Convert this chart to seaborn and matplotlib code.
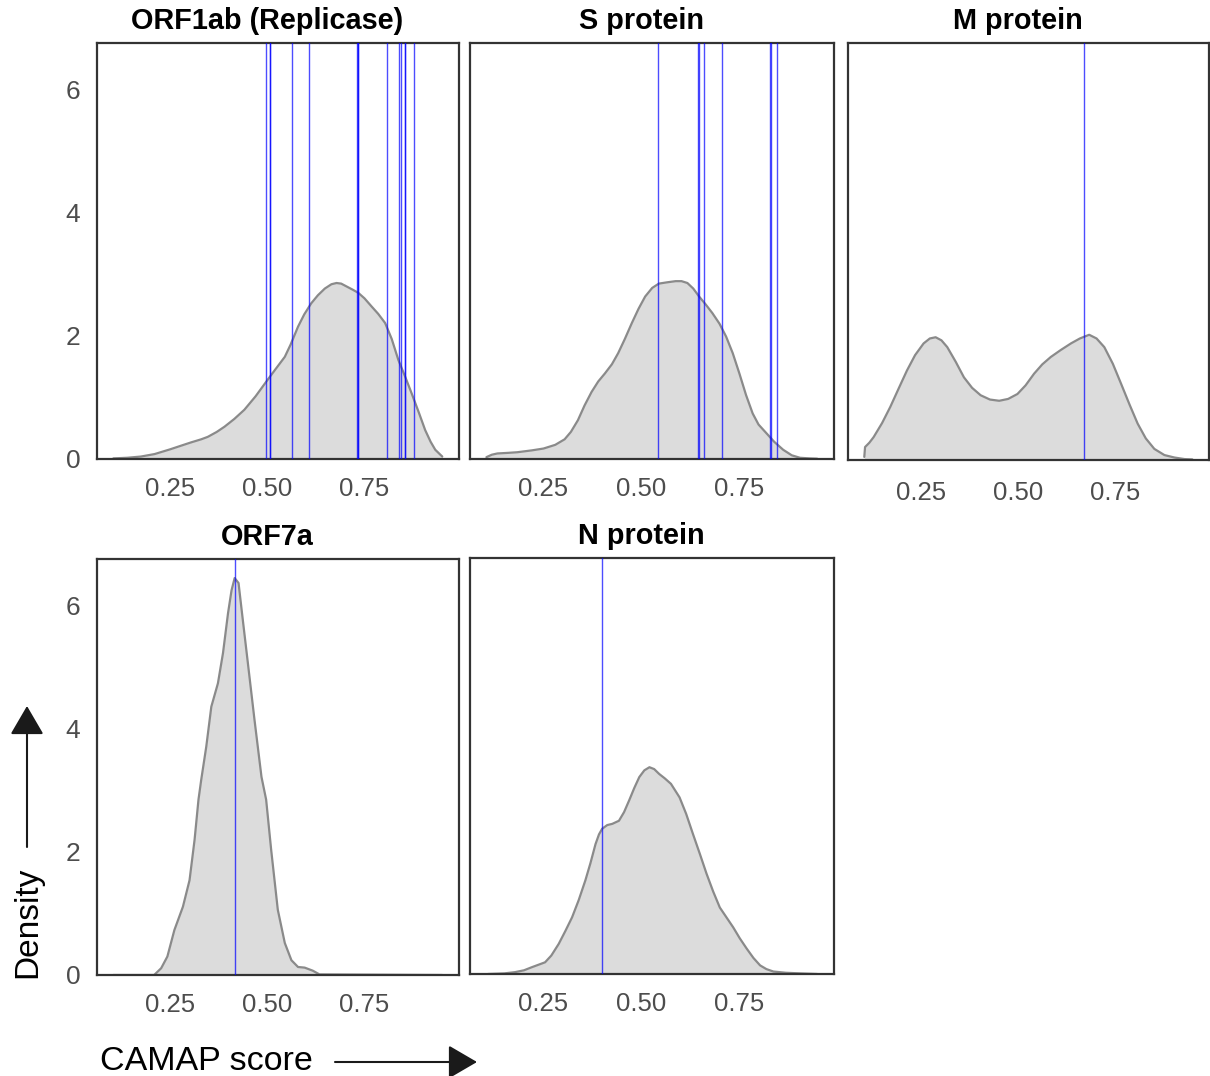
import numpy as np
import pandas as pd
import matplotlib
matplotlib.use("Agg")
import matplotlib.pyplot as plt
from matplotlib.patches import FancyArrowPatch
import seaborn as sns

# ---- density curves of CAMAP scores per viral protein ----
orf1ab_score = [0.104, 0.14, 0.175, 0.21, 0.25, 0.28, 0.304, 0.33, 0.347, 0.37,
                0.39, 0.415, 0.441, 0.47, 0.50, 0.52, 0.545, 0.56, 0.579, 0.595,
                0.613, 0.63, 0.648, 0.665, 0.678, 0.69, 0.708, 0.72, 0.734, 0.75,
                0.768, 0.785, 0.803, 0.82, 0.837, 0.855, 0.871, 0.89, 0.906, 0.92,
                0.932, 0.945, 0.95]
orf1ab_density = [0.01, 0.02, 0.04, 0.08, 0.157, 0.22, 0.27, 0.32, 0.36, 0.44,
                  0.525, 0.65, 0.80, 1.02, 1.28, 1.45, 1.66, 1.86, 2.15, 2.35,
                  2.53, 2.66, 2.77, 2.84, 2.86, 2.85, 2.79, 2.75, 2.70, 2.61,
                  2.48, 2.36, 2.21, 1.95, 1.61, 1.33, 1.07, 0.75, 0.47, 0.28,
                  0.15, 0.07, 0.04]

s_score = [0.104, 0.118, 0.132, 0.16, 0.183, 0.22, 0.25, 0.28, 0.304, 0.32,
           0.338, 0.355, 0.373, 0.39, 0.407, 0.425, 0.441, 0.458, 0.476, 0.493,
           0.51, 0.528, 0.545, 0.565, 0.588, 0.603, 0.618, 0.633, 0.648, 0.665,
           0.682, 0.70, 0.717, 0.734, 0.751, 0.768, 0.785, 0.80, 0.82, 0.84,
           0.863, 0.885, 0.906, 0.93, 0.95]
s_density = [0.03, 0.07, 0.09, 0.10, 0.11, 0.14, 0.17, 0.23, 0.32, 0.44,
             0.63, 0.87, 1.09, 1.26, 1.39, 1.54, 1.72, 1.95, 2.21, 2.44,
             2.64, 2.78, 2.85, 2.87, 2.89, 2.89, 2.86, 2.77, 2.64, 2.51,
             2.37, 2.20, 1.99, 1.72, 1.39, 1.04, 0.74, 0.56, 0.42, 0.28,
             0.15, 0.06, 0.02, 0.01, 0.005]

m_score = [0.104, 0.106, 0.117, 0.128, 0.15, 0.171, 0.192, 0.214, 0.235, 0.257,
           0.273, 0.288, 0.303, 0.318, 0.34, 0.361, 0.382, 0.404, 0.428, 0.452,
           0.475, 0.499, 0.52, 0.542, 0.563, 0.585, 0.61, 0.637, 0.66, 0.684,
           0.703, 0.723, 0.745, 0.766, 0.788, 0.809, 0.83, 0.852, 0.878, 0.904,
           0.93, 0.95]
m_density = [0.05, 0.21, 0.28, 0.37, 0.60, 0.86, 1.15, 1.45, 1.70, 1.89,
             1.97, 1.99, 1.94, 1.83, 1.59, 1.34, 1.17, 1.05, 0.98, 0.96,
             0.99, 1.07, 1.21, 1.40, 1.55, 1.67, 1.78, 1.89, 1.97, 2.03,
             1.97, 1.83, 1.56, 1.24, 0.90, 0.59, 0.35, 0.18, 0.08, 0.04,
             0.015, 0.01]

orf7a_score = [0.104, 0.209, 0.227, 0.243, 0.261, 0.283, 0.30, 0.313, 0.323, 0.33,
               0.343, 0.356, 0.373, 0.386, 0.399, 0.408, 0.416, 0.426, 0.437, 0.45,
               0.467, 0.485, 0.497, 0.51, 0.527, 0.545, 0.562, 0.579, 0.596, 0.617,
               0.634, 0.95]
orf7a_density = [0.0, 0.0, 0.11, 0.30, 0.73, 1.11, 1.54, 2.20, 2.85, 3.17,
                 3.71, 4.36, 4.74, 5.23, 5.88, 6.25, 6.45, 6.37, 5.77, 5.07,
                 4.15, 3.22, 2.85, 2.03, 1.06, 0.52, 0.24, 0.13, 0.12, 0.07,
                 0.01, 0.0]

n_score = [0.108, 0.15, 0.177, 0.20, 0.22, 0.237, 0.254, 0.27, 0.289, 0.306,
           0.323, 0.34, 0.357, 0.37, 0.383, 0.392, 0.40, 0.413, 0.426, 0.443,
           0.456, 0.469, 0.482, 0.495, 0.508, 0.521, 0.533, 0.546, 0.56, 0.576,
           0.598, 0.615, 0.632, 0.65, 0.667, 0.684, 0.701, 0.718, 0.735, 0.752,
           0.77, 0.787, 0.804, 0.82, 0.838, 0.87, 0.907, 0.95]
n_density = [0.0, 0.01, 0.03, 0.06, 0.11, 0.15, 0.19, 0.30, 0.49, 0.70,
             0.92, 1.20, 1.52, 1.80, 2.11, 2.27, 2.36, 2.42, 2.44, 2.49,
             2.63, 2.82, 3.02, 3.20, 3.31, 3.36, 3.33, 3.25, 3.18, 3.09,
             2.87, 2.60, 2.28, 1.95, 1.63, 1.34, 1.08, 0.92, 0.76, 0.58,
             0.41, 0.26, 0.14, 0.08, 0.04, 0.02, 0.01, 0.0]

# ---- scores of the individual epitopes (vertical markers) ----
orf1ab_epitopes = [0.496, 0.508, 0.508, 0.563, 0.606, 0.731, 0.734, 0.734,
                   0.809, 0.839, 0.843, 0.855, 0.855, 0.876]
s_epitopes = [0.543, 0.644, 0.648, 0.661, 0.706, 0.830, 0.833, 0.846]
m_epitopes = [0.670]
orf7a_epitopes = [0.417]
n_epitopes = [0.400]

titles = ["ORF1ab (Replicase)", "S protein", "M protein", "ORF7a", "N protein"]
x_ticks = [0.25, 0.50, 0.75]
x_tick_labels = ["0.25", "0.50", "0.75"]
y_ticks = [0, 2, 4, 6]

panels = [
    (orf1ab_score, orf1ab_density, orf1ab_epitopes),
    (s_score, s_density, s_epitopes),
    (m_score, m_density, m_epitopes),
    (orf7a_score, orf7a_density, orf7a_epitopes),
    (n_score, n_density, n_epitopes),
]

sns.set_theme(style="white")
plt.rcParams['font.family'] = ['Liberation Sans', 'DejaVu Sans']

W, H = 1210, 1076
fig = plt.figure(figsize=(W / 100, H / 100), dpi=100)


def box(l, t, r, b):
    return [l / W, 1 - b / H, (r - l) / W, (b - t) / H]


boxes = [
    box(97, 43, 459, 459),
    box(470, 43, 834, 459),
    box(848, 43, 1209, 460),
    box(97, 559, 459, 975),
    box(470, 558, 834, 974),
]
show_y = [True, False, False, True, False]
x_pads = [8.5, 8.5, 10.5, 8.5, 8.5]

frame_col = "#333333"
for (score, dens, epis), title, rect, sy, xp in zip(panels, titles, boxes, show_y, x_pads):
    ax = fig.add_axes(rect)
    df = pd.DataFrame({"score": score, "density": dens})
    ax.fill_between(df["score"], df["density"], color="#dcdcdc", lw=0, zorder=1)
    sns.lineplot(data=df, x="score", y="density", ax=ax, color="#8a8a8a",
                 lw=1.6, zorder=2)
    for e in epis:
        ax.axvline(e, color="#0000ff", lw=1.0, alpha=0.7, zorder=3)
    ax.set_xlim(0.062, 0.993)
    ax.set_ylim(0, 6.76)
    ax.set_xticks(x_ticks)
    ax.set_xticklabels(x_tick_labels)
    ax.set_xlabel("")
    ax.set_ylabel("")
    if sy:
        ax.set_yticks(y_ticks)
    else:
        ax.set_yticks([])
    ax.tick_params(axis="both", direction="out", length=4.5, width=1.4,
                   color=frame_col, labelcolor="#4d4d4d")
    ax.tick_params(axis="x", labelsize=18.5, pad=xp)
    ax.tick_params(axis="y", labelsize=19, pad=7.5)
    for sp in ax.spines.values():
        sp.set_color(frame_col)
        sp.set_linewidth(1.6)
    ax.set_title(title, fontsize=20.8, fontweight="bold", color="black",
                 pad=10, x=0.47)

# axis captions with arrows
fig.text(28 / W, 1 - 922 / H, "Density", rotation=90, fontsize=24,
         ha="center", va="center", color="black")
fig.text(100 / W, 1 - 1061 / H, "CAMAP score", fontsize=24.5,
         ha="left", va="center", color="black")
arrow = dict(arrowstyle="-|>,head_length=1.8,head_width=1.05", color="#1a1a1a",
             lw=1.5, shrinkA=0, shrinkB=0, mutation_scale=10,
             transform=fig.transFigure)
fig.add_artist(FancyArrowPatch((27 / W, 1 - 847 / H), (27 / W, 1 - 706 / H), **arrow))
fig.add_artist(FancyArrowPatch((335 / W, 1 - 1062 / H), (477 / W, 1 - 1062 / H), **arrow))

fig.savefig("out.png", dpi=100)
